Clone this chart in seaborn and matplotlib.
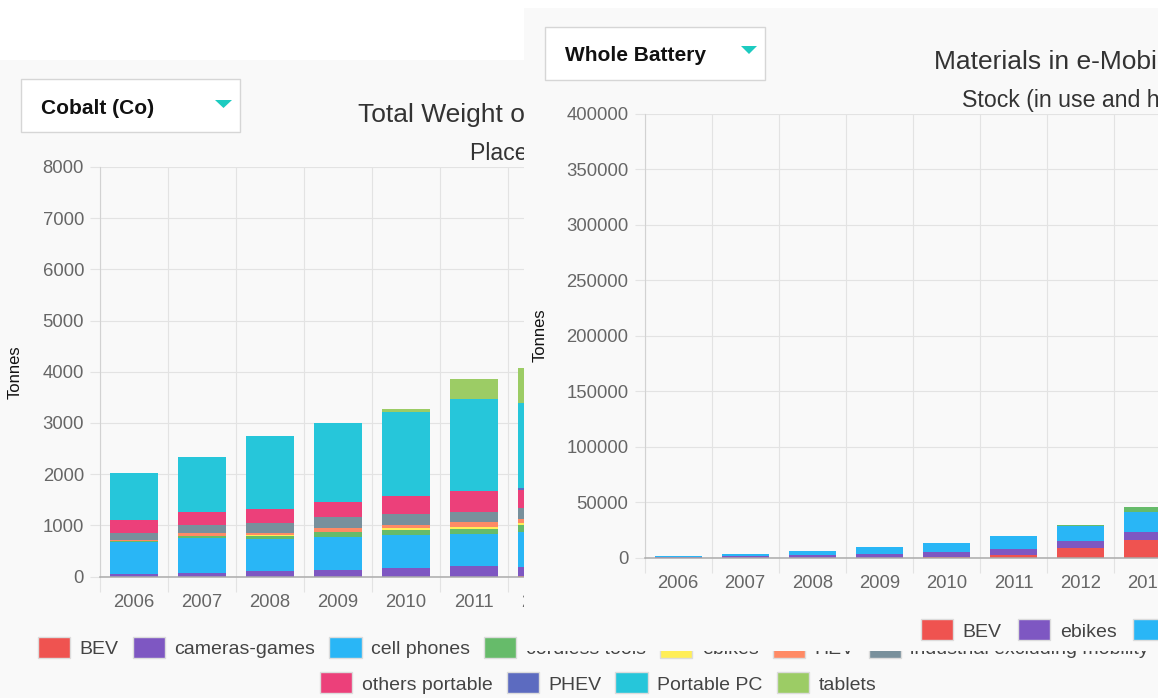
import numpy as np
import matplotlib
matplotlib.use("Agg")
import matplotlib.pyplot as plt
import matplotlib.patches as mpatches
import seaborn as sns

# ---------------- data ----------------
years_left = ["2006", "2007", "2008", "2009", "2010", "2011", "2012"]
left_series = ["BEV", "cameras-games", "cell phones", "cordless tools", "ebikes", "HEV",
               "industrial excluding mobility", "others portable", "PHEV", "Portable PC", "tablets"]
bev_l = [0, 0, 0, 0, 0, 0, 10]
cameras_games = [46, 78, 98, 131, 163, 196, 183]
cell_phones = [627, 673, 634, 641, 654, 627, 686]
cordless_tools = [20, 46, 65, 92, 98, 111, 118]
ebikes_l = [0, 0, 5, 13, 26, 39, 46]
hev_l = [25, 46, 52, 72, 72, 85, 85]
industrial = [130, 163, 190, 209, 203, 209, 209]
others_portable = [248, 261, 268, 288, 366, 405, 359]
phev_l = [0, 0, 0, 0, 0, 0, 33]
portable_pc = [928, 1072, 1425, 1562, 1634, 1791, 1667]
tablets = [0, 0, 0, 0, 65, 392, 686]

years_right = ["2006", "2007", "2008", "2009", "2010", "2011", "2012", "2013"]
right_series = ["BEV", "ebikes", "HEV", "PHEV"]
bev_r = [0, 0, 0, 0, 400, 2400, 8700, 16000]
ebikes_r = [600, 1500, 2200, 3300, 4400, 5700, 6600, 7200]
hev_r = [1200, 2100, 3800, 6300, 8500, 11200, 13500, 17700]
phev_r = [0, 0, 0, 0, 0, 0, 900, 4500]

left_yticks = [0, 1000, 2000, 3000, 4000, 5000, 6000, 7000, 8000]
right_yticks = [0, 50000, 100000, 150000, 200000, 250000, 300000, 350000, 400000]

# ---------------- style ----------------
C_BEV = "#EF5350"; C_PURPLE = "#7E57C2"; C_LBLUE = "#29B6F6"; C_GREEN = "#66BB6A"
C_YELLOW = "#FFEE58"; C_ORANGE = "#FF8A65"; C_BGREY = "#78909C"; C_PINK = "#EC407A"
C_INDIGO = "#5C6BC0"; C_CYAN = "#26C6DA"; C_LGREEN = "#9CCC65"
left_colors = [C_BEV, C_PURPLE, C_LBLUE, C_GREEN, C_YELLOW, C_ORANGE, C_BGREY,
               C_PINK, C_INDIGO, C_CYAN, C_LGREEN]
right_colors = [C_BEV, C_PURPLE, C_LBLUE, C_GREEN]

GRID = "#e3e3e3"
YAXIS = "#d2d2d2"
ZERO = "#ababab"
TICKC = "#666666"
BG = "#f9f9f9"
TEAL = "#1ccbc0"

sns.set_style("white")
plt.rcParams["font.family"] = ["Liberation Sans", "DejaVu Sans"]

W, H, DPI = 1158, 698, 100
fig = plt.figure(figsize=(W / DPI, H / DPI), dpi=DPI, facecolor="white")


def fx(px):
    return px / W


def fy(py):
    return 1 - py / H


def rect_px(x0, y0, x1, y1, z, **kw):
    r = mpatches.Rectangle((fx(x0), fy(y1)), (x1 - x0) / W, (y1 - y0) / H,
                           transform=fig.transFigure, zorder=z, **kw)
    fig.add_artist(r)
    return r


def tri_px(x0, x1, ytop, ybot, z):
    pts = [(fx(x0), fy(ytop)), (fx(x1), fy(ytop)), (fx((x0 + x1) / 2), fy(ybot))]
    p = mpatches.Polygon(pts, closed=True, transform=fig.transFigure, zorder=z,
                         facecolor=TEAL, edgecolor="none")
    fig.add_artist(p)


def stacked(ax, cats, series, colors):
    cum = np.cumsum(np.array(series, dtype=float), axis=0)
    for i in range(len(series) - 1, -1, -1):
        sns.barplot(x=cats, y=cum[i], order=cats, color=colors[i], saturation=1,
                    width=0.7, linewidth=0, errorbar=None, ax=ax)


def style(ax, n, yticks):
    ax.set_facecolor("none")
    ax.set_xlim(-0.5, n - 0.5)
    ax.set_ylim(yticks[0], yticks[-1])
    ax.set_yticks(yticks)
    ax.set_xticks(np.arange(n + 1) - 0.5, minor=True)
    ax.grid(False)
    ax.grid(axis="y", which="major", color=GRID, lw=0.8)
    ax.grid(axis="x", which="minor", color=GRID, lw=0.8)
    ax.set_axisbelow(True)
    for s in ["top", "right"]:
        ax.spines[s].set_visible(False)
    ax.spines["left"].set_color(YAXIS)
    ax.spines["left"].set_linewidth(0.8)
    ax.spines["bottom"].set_color(ZERO)
    ax.spines["bottom"].set_linewidth(1.1)
    ax.tick_params(axis="y", which="major", length=7.2, width=0.8, color=GRID, pad=4.3,
                   labelsize=13.3, labelcolor=TICKC, left=True)
    ax.tick_params(axis="x", which="major", length=0, pad=12.5, labelsize=13.3,
                   labelcolor=TICKC)
    ax.tick_params(axis="x", which="minor", length=10.5, width=0.8, color=GRID, bottom=True)
    ax.set_xlabel("")
    ax.set_ylabel("")


# ---------------- backgrounds ----------------
rect_px(0, 60, W, H, -1, facecolor=BG, edgecolor="none")      # left screenshot
rect_px(524, 8, W + 5, 650.5, 1, facecolor=BG, edgecolor="none")  # right screenshot (on top)

# ---------------- left chart ----------------
axL = fig.add_axes([fx(100), fy(576.5), 476 / W, (576.5 - 167) / H], zorder=0)
left_values = [bev_l, cameras_games, cell_phones, cordless_tools, ebikes_l, hev_l,
               industrial, others_portable, phev_l, portable_pc, tablets]
stacked(axL, years_left, left_values, left_colors)
style(axL, len(years_left), left_yticks)

rect_px(21, 79, 240, 132, 0.5, facecolor="white", edgecolor="#d6d6d6", linewidth=1)
fig.text(fx(41), fy(113.5), "Cobalt (Co)", fontsize=15, fontweight="bold", color="#111111",
         ha="left", va="baseline", zorder=0.6)
tri_px(215, 232, 100, 108, 0.6)
fig.text(fx(358), fy(122), "Total Weight of Cobalt (Co) in Portable and e-Mobility Batteries",
         fontsize=19, color="#333333", ha="left", va="baseline", zorder=0.5)
fig.text(fx(470), fy(160), "Placed on Market", fontsize=16.7, color="#333333",
         ha="left", va="baseline", zorder=0.5)
fig.text(fx(15), fy(372), "Tonnes", fontsize=12, color="#111111", rotation=90,
         ha="center", va="center", zorder=0.5)

hL = [mpatches.Patch(facecolor=c, edgecolor="#dcdcdc", linewidth=1.0) for c in left_colors]
legL1 = fig.legend(hL[:7], left_series[:7], loc="center left",
                   bbox_to_anchor=(fx(38), fy(647.5)), bbox_transform=fig.transFigure,
                   ncol=7, frameon=False, fontsize=14, handlelength=1.65, handleheight=1.285,
                   handletextpad=0.5, columnspacing=0.72, borderpad=0, borderaxespad=0,
                   labelcolor="#444444")
legL1.set_zorder(0.5)
legL2 = fig.legend(hL[7:], left_series[7:], loc="center left",
                   bbox_to_anchor=(fx(320), fy(683)), bbox_transform=fig.transFigure,
                   ncol=4, frameon=False, fontsize=14, handlelength=1.65, handleheight=1.285,
                   handletextpad=0.5, columnspacing=0.72, borderpad=0, borderaxespad=0,
                   labelcolor="#444444")
legL2.set_zorder(0.5)

# ---------------- right chart ----------------
axR = fig.add_axes([fx(644.5), fy(557.7), 8 * 67.1 / W, (557.7 - 114) / H], zorder=2)
right_values = [bev_r, ebikes_r, hev_r, phev_r]
stacked(axR, years_right, right_values, right_colors)
style(axR, len(years_right), right_yticks)

rect_px(545, 27, 765, 80, 3, facecolor="white", edgecolor="#d6d6d6", linewidth=1)
fig.text(fx(565), fy(61), "Whole Battery", fontsize=15, fontweight="bold", color="#111111",
         ha="left", va="baseline", zorder=3.1)
tri_px(741, 757, 46, 54, 3.1)
fig.text(fx(934), fy(69), "Materials in e-Mobility Batteries", fontsize=19, color="#333333",
         ha="left", va="baseline", zorder=3)
fig.text(fx(962), fy(107), "Stock (in use and hibernating)", fontsize=16.7, color="#333333",
         ha="left", va="baseline", zorder=3)
fig.text(fx(540), fy(335), "Tonnes", fontsize=12, color="#111111", rotation=90,
         ha="center", va="center", zorder=3)

hR = [mpatches.Patch(facecolor=c, edgecolor="#dcdcdc", linewidth=1.0) for c in right_colors]
legR = fig.legend(hR, right_series, loc="center left",
                  bbox_to_anchor=(fx(921), fy(630)), bbox_transform=fig.transFigure,
                  ncol=4, frameon=False, fontsize=14, handlelength=1.65, handleheight=1.285,
                  handletextpad=0.5, columnspacing=0.85, borderpad=0, borderaxespad=0,
                  labelcolor="#444444")
legR.set_zorder(3)

fig.savefig("out.png", dpi=DPI, facecolor="white")
